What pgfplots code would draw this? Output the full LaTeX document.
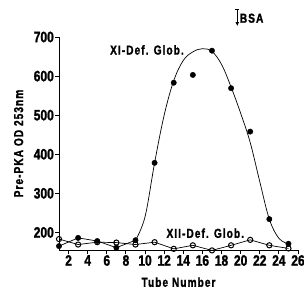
\documentclass[border=0pt]{standalone}
\usepackage{pgfplots}
\pgfplotsset{compat=1.18}
\usetikzlibrary{arrows.meta}
\usepackage{fontspec}
\setmainfont{Liberation Sans}[FakeStretch=0.8, FakeBold=1.5]
\newfontfamily\lab{Liberation Sans}[FakeStretch=0.78, FakeBold=1.5, LetterSpace=8]
\begin{document}
\begin{tikzpicture}
\useasboundingbox (-59pt,-45pt) rectangle (245pt,250pt);
\begin{axis}[
  at={(0pt,0pt)}, anchor=south west,
  scale only axis, width=239pt, height=213pt,
  xmin=1, xmax=26, ymin=155, ymax=700,
  axis lines=left, axis line style={-, line width=1pt},
  xtick={2,4,...,26}, ytick={200,300,...,700},
  tick align=outside, major tick length=4pt,
  tick style={line width=1pt, black},
  /pgf/number format/assume math mode=true,
  ticklabel style={font=\fontsize{15}{15}\selectfont\bfseries},
  xticklabel style={inner sep=1pt},
  yticklabel style={inner sep=1pt},
  xlabel={Tube Number}, ylabel={Pre-PKA OD 253nm},
  label style={font=\fontsize{13}{13}\selectfont\lab\bfseries},
  xlabel style={yshift=-7pt},
  ylabel style={yshift=6pt},
  clip=false,
]
% XI-Def. Glob. data points
\addplot[only marks, mark=*, mark size=2.7pt, black] coordinates {
(1,165)(3,186)(5,178)(7,161)(9,180)(11,378)(13,583)(15,603)(17,665)(19,569)(21,458)(23,234)(25,171)};
% connecting line at left
\addplot[black, line width=0.7pt] coordinates {(1,165)(3,186)(5,178)(7,161)(9,180)};
% fitted curve
\addplot[black, line width=0.7pt, smooth, tension=0.6] coordinates {
(9,180)(10,240)(11,378)(12,500)(13,588)(14,640)(15,662)(16,670)(17,663)(18,630)(19,572)(20,505)(21,430)(22,330)(23,234)(24,185)(25,171)};
% XII-Def. Glob.
\addplot[black, line width=0.7pt, mark=o, mark size=2.6pt, mark options={fill=white, line width=1pt}] coordinates {
(1,183)(3,169)(5,175)(7,174)(9,169)(11,175)(13,158)(15,167)(17,154)(19,167)(21,181)(23,167)(25,159)};
\node[font=\fontsize{13}{13}\selectfont\lab\bfseries] at (axis cs:10.2,667) {XI-Def. Glob.};
\node[font=\fontsize{13}{13}\selectfont\lab\bfseries] at (axis cs:16.3,198) {XII-Def. Glob.};
\node[font=\fontsize{13}{13}\selectfont\lab\bfseries, anchor=west, inner sep=0pt] at (axis cs:19.9,748) {BSA};
\draw[-{Latex[length=4pt,width=4pt]}, line width=1pt] (axis cs:19.65,770) -- (axis cs:19.65,728);
\draw[line width=1pt] (axis cs:19.45,770) -- (axis cs:19.85,770);
\end{axis}
\end{tikzpicture}
\end{document}
